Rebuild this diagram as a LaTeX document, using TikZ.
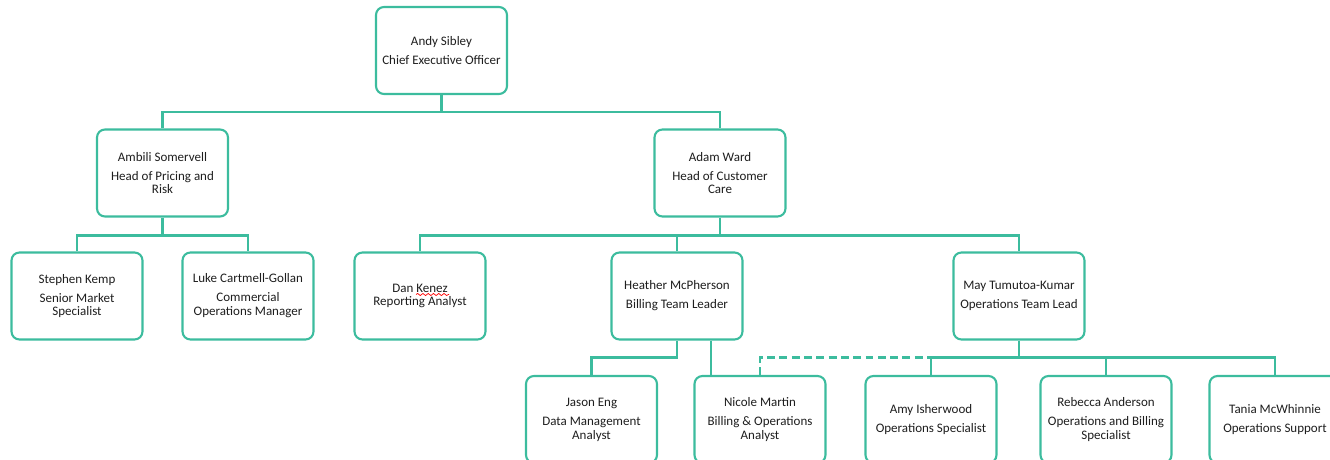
\documentclass[tikz,border=0pt]{standalone}
\usepackage{fontspec}
\setmainfont{Carlito}
\usetikzlibrary{calc}
\usetikzlibrary{decorations.pathmorphing}

\definecolor{orgteal}{RGB}{60,188,158}
\definecolor{orgtext}{RGB}{30,30,30}

\tikzset{
  person/.style={draw=orgteal, line width=1.2pt, fill=white, rounded corners=4.5pt,
    minimum width=2.62cm, minimum height=1.74cm, inner sep=0pt, align=center,
    text=orgtext, font=\fontsize{7.4}{7.9}\selectfont},
  link/.style={draw=orgteal, line width=1.2pt},
  dottedlink/.style={link, dash pattern=on 4.5pt off 2.5pt}
}

\begin{document}
\begin{tikzpicture}[x=0.02cm, y=-0.02cm]
  \useasboundingbox (0,0) rectangle (1330,460);
  \clip (0,0) rectangle (1330,460);

  % Top
  \node[person] (ceo) at (441.5,50.5) {Andy Sibley\\[2.9pt]Chief Executive Officer};

  % Heads
  \node[person] (ambili) at (162.5,173) {Ambili Somervell\\[2.9pt]Head of Pricing and\\Risk};
  \node[person] (adam) at (720,173) {Adam Ward\\[2.9pt]Head of Customer\\Care};

  % Third row
  \node[person] (stephen) at (77,296) {Stephen Kemp\\[2.9pt]Senior Market\\Specialist};
  \node[person] (luke) at (248,296) {Luke Cartmell-Gollan\\[2.9pt]Commercial\\Operations Manager};
  \node[person] (dan) at (420,296) {Dan Kenez\\Reporting Analyst};
  \node[person] (heather) at (677,296) {Heather McPherson\\[2.9pt]Billing Team Leader};
  \node[person] (may) at (1019,296) {May Tumutoa-Kumar\\[2.9pt]Operations Team Lead};

  % Bottom row
  \node[person] (jason) at (591.5,419.5) {Jason Eng\\[2.9pt]Data Management\\Analyst};
  \node[person] (nicole) at (760,419.5) {Nicole Martin\\[2.9pt]Billing \& Operations\\Analyst};
  \node[person] (amy) at (931,419.5) {Amy Isherwood\\[2.9pt]Operations Specialist};
  \node[person] (rebecca) at (1106,419.5) {Rebecca Anderson\\[2.9pt]Operations and Billing\\Specialist};
  \node[person] (tania) at (1275,419.5) {Tania McWhinnie\\[2.9pt]Operations Support};

  % spell check mark
  \draw[red, line width=0.4pt, decorate, decoration={snake, amplitude=0.6, segment length=3}]
    ($(dan.center)+(-4,-1.5)$) -- ++(33,0);

  % Connectors
  \draw[link] (ceo.south) -- ++(0,17) coordinate (ceobus);
  \draw[link] (ambili.north) |- (ceobus) -| (adam.north);

  \draw[link] (ambili.south) -- ++(0,18) coordinate (ambilibus);
  \draw[link] (stephen.north) |- (ambilibus) -| (luke.north);

  \draw[link] (adam.south) -- ++(0,18) coordinate (adambus);
  \draw[link] (dan.north) |- (adambus) -| (may.north);
  \draw[link] (heather.north) -- (heather.north |- adambus);

  \draw[link] (heather.south) -- ++(0,17) coordinate (heatherbus) -| (jason.north);
  \draw[link] (heather.south) ++(34,0) coordinate (heatherright) -- (heatherright |- nicole.north);

  \draw[link] (may.south) -- ++(0,17) coordinate (maybus);
  \draw[link] (amy.north) |- (maybus) -| (tania.north);
  \draw[link] (rebecca.north) -- (rebecca.north |- maybus);
  \draw[dottedlink] (nicole.north) |- (amy.north |- maybus);
\end{tikzpicture}
\end{document}
